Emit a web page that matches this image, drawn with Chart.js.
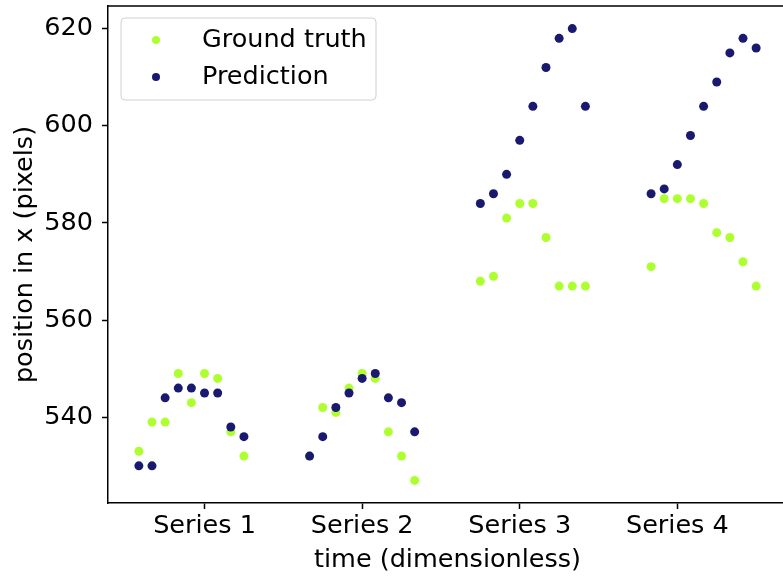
<!DOCTYPE html>
<html>
<head>
<meta charset="utf-8">
<script src="https://cdn.jsdelivr.net/npm/chart.js@4"></script>
<style>
  html, body { margin: 0; padding: 0; background: #fff; overflow: hidden; }
  #wrap { position: relative; width: 800px; height: 576px; }
</style>
</head>
<body>
<div id="wrap"><canvas id="chart"></canvas></div>
<script>
// x positions (time steps) and the category labels under them
var times = [0, 1, 2, 3, 4, 5, 6, 7, 8,
             13, 14, 15, 16, 17, 18, 19, 20, 21,
             26, 27, 28, 29, 30, 31, 32, 33, 34,
             39, 40, 41, 42, 43, 44, 45, 46, 47];
var tickPositions = [5, 17, 29, 41];
var tickLabels = ['Series 1', 'Series 2', 'Series 3', 'Series 4'];
var yTicks = [540, 560, 580, 600, 620];

var groundTruth = [533, 539, 539, 549, 543, 549, 548, 537, 532,
                   532, 542, 541, 546, 549, 548, 537, 532, 527,
                   568, 569, 581, 584, 584, 577, 567, 567, 567,
                   571, 585, 585, 585, 584, 578, 577, 572, 567];
var prediction = [530, 530, 544, 546, 546, 545, 545, 538, 536,
                  532, 536, 542, 545, 548, 549, 544, 543, 537,
                  584, 586, 590, 597, 604, 612, 618, 620, 604,
                  586, 587, 592, 598, 604, 609, 615, 618, 616];

var FONT = "'DejaVu Sans', sans-serif";
var FONT_SIZE = 25.5;

function toPoints(values) {
  return values.map(function (v, i) { return { x: times[i], y: v }; });
}

// matplotlib-like frame (top spine) and legend box
var framePlugin = {
  id: 'frame',
  afterDraw: function (chart) {
    var ctx = chart.ctx;
    var a = chart.chartArea;
    ctx.save();
    ctx.strokeStyle = '#000';
    ctx.lineWidth = 1.5;
    ctx.beginPath();
    ctx.moveTo(a.left, a.top);
    ctx.lineTo(a.right, a.top);
    ctx.lineTo(a.right, a.bottom);
    ctx.stroke();

    // legend
    var bx = a.left + 13, by = a.top + 12, bw = 255, bh = 82, r = 4;
    ctx.beginPath();
    ctx.moveTo(bx + r, by);
    ctx.lineTo(bx + bw - r, by);
    ctx.arcTo(bx + bw, by, bx + bw, by + r, r);
    ctx.lineTo(bx + bw, by + bh - r);
    ctx.arcTo(bx + bw, by + bh, bx + bw - r, by + bh, r);
    ctx.lineTo(bx + r, by + bh);
    ctx.arcTo(bx, by + bh, bx, by + bh - r, r);
    ctx.lineTo(bx, by + r);
    ctx.arcTo(bx, by, bx + r, by, r);
    ctx.closePath();
    ctx.fillStyle = 'rgba(255,255,255,0.8)';
    ctx.fill();
    ctx.strokeStyle = '#d0d0d0';
    ctx.lineWidth = 1;
    ctx.stroke();

    ctx.font = FONT_SIZE + 'px ' + FONT;
    ctx.textBaseline = 'middle';
    ctx.textAlign = 'left';
    chart.data.datasets.forEach(function (ds, i) {
      var cy = by + 22 + i * 37;
      ctx.fillStyle = ds.backgroundColor;
      ctx.beginPath();
      ctx.arc(bx + 35, cy, 4, 0, Math.PI * 2);
      ctx.fill();
      ctx.fillStyle = '#000';
      ctx.fillText(ds.label, bx + 81, cy);
    });
    ctx.restore();
  }
};

new Chart(document.getElementById('chart'), {
  type: 'scatter',
  data: {
    datasets: [
      {
        label: 'Ground truth',
        data: toPoints(groundTruth),
        backgroundColor: '#adff2f',
        pointRadius: 4.5,
        pointBorderWidth: 0,
        order: 1
      },
      {
        label: 'Prediction',
        data: toPoints(prediction),
        backgroundColor: '#191970',
        pointRadius: 4.5,
        pointBorderWidth: 0,
        order: 0
      }
    ]
  },
  options: {
    responsive: true,
    maintainAspectRatio: false,
    animation: false,
    layout: { padding: { top: 6, right: 13, left: 0, bottom: 0 } },
    plugins: { legend: { display: false }, tooltip: { enabled: false } },
    scales: {
      x: {
        type: 'linear',
        min: -2.35,
        max: 49.35,
        afterFit: function (scale) {
          scale.height = 73;
          scale.paddingLeft = 0;
          scale.paddingRight = 0;
        },
        afterBuildTicks: function (scale) {
          scale.ticks = tickPositions.map(function (v) { return { value: v }; });
        },
        border: { color: '#000', width: 1.5 },
        grid: { drawOnChartArea: false, tickLength: 6, tickColor: '#000', tickWidth: 1.5 },
        ticks: {
          color: '#000',
          padding: 2,
          maxRotation: 0,
          font: { family: FONT, size: FONT_SIZE },
          callback: function (value) { return tickLabels[tickPositions.indexOf(value)]; }
        },
        title: {
          display: true,
          text: 'time (dimensionless)',
          color: '#000',
          padding: { top: 0, bottom: 0 },
          font: { family: FONT, size: FONT_SIZE }
        }
      },
      y: {
        min: 522.35,
        max: 624.65,
        afterFit: function (scale) {
          scale.width = 108;
          scale.paddingTop = 0;
          scale.paddingBottom = 0;
        },
        afterBuildTicks: function (scale) {
          scale.ticks = yTicks.map(function (v) { return { value: v }; });
        },
        border: { color: '#000', width: 1.5 },
        grid: { drawOnChartArea: false, tickLength: 6, tickColor: '#000', tickWidth: 1.5 },
        ticks: {
          color: '#000',
          padding: 9,
          font: { family: FONT, size: FONT_SIZE }
        },
        title: {
          display: true,
          text: 'position in x (pixels)',
          color: '#000',
          padding: { top: 10, bottom: 0 },
          font: { family: FONT, size: FONT_SIZE }
        }
      }
    }
  },
  plugins: [framePlugin]
});
</script>
</body>
</html>
